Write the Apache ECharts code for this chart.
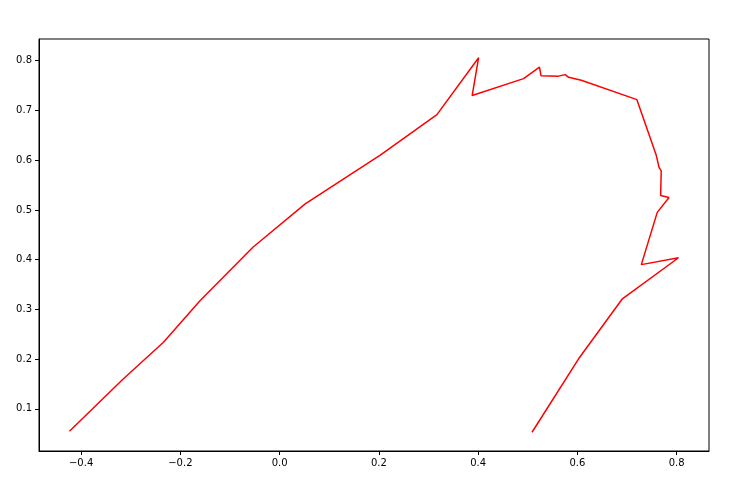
<!DOCTYPE html>
<html>
<head>
<meta charset="utf-8">
<script src="https://cdn.jsdelivr.net/npm/echarts@6/dist/echarts.min.js"></script>
<style>
  html, body { margin: 0; padding: 0; background: #fff; }
  #chart { width: 736px; height: 491px; }
</style>
</head>
<body>
<div id="chart"></div>
<script>
// points of the red curve (x, y in order)
const xValues = [
  -0.4235, -0.3147, -0.234, -0.160, -0.0538, 0.0516, 0.2028, 0.317,
  0.401, 0.388, 0.4916, 0.5237, 0.5267, 0.562, 0.5757, 0.5823, 0.608,
  0.720, 0.759, 0.7646, 0.769, 0.7678, 0.7847, 0.761, 0.7289, 0.8039,
  0.690, 0.6025, 0.5086
]
const yValues = [
  0.0549, 0.1604, 0.234, 0.318, 0.425, 0.512, 0.610, 0.6916,
  0.806, 0.730, 0.764, 0.787, 0.770, 0.769, 0.772, 0.7666, 0.7606,
  0.7217, 0.6097, 0.5855, 0.5785, 0.529, 0.525, 0.495, 0.390, 0.4038,
  0.3205, 0.2006, 0.0529
]
const xTicks = [-0.4, -0.2, 0.0, 0.2, 0.4, 0.6, 0.8]
const yTicks = [0.1, 0.2, 0.3, 0.4, 0.5, 0.6, 0.7, 0.8]

// matplotlib-ish: 5% margin around the data
const pad = (arr) => {
  const lo = Math.min(...arr), hi = Math.max(...arr)
  const m = (hi - lo) * 0.05
  return [lo - m, hi + m]
}
const [xMin, xMax] = pad(xValues)
const [yMin, yMax] = pad(yValues)

const fmt = (v) => v.toFixed(1).replace('-', '\u2212')

const tickLabel = {
  fontFamily: 'DejaVu Sans',
  fontSize: 10,
  color: '#000',
  margin: 7
}

const chart = echarts.init(document.getElementById('chart'))
chart.setOption({
  animation: false,
  grid: {
    left: 39, right: 27, top: 39, bottom: 40,
    show: true,
    borderColor: '#000',
    borderWidth: 1,
    backgroundColor: '#fff'
  },
  xAxis: {
    type: 'value',
    min: xMin,
    max: xMax,
    axisLine: { show: true, onZero: false, lineStyle: { color: '#000', width: 1 } },
    axisTick: { show: true, length: 4, customValues: xTicks, lineStyle: { color: '#000' } },
    axisLabel: Object.assign({}, tickLabel, { customValues: xTicks, formatter: fmt }),
    splitLine: { show: false }
  },
  yAxis: {
    type: 'value',
    min: yMin,
    max: yMax,
    axisLine: { show: true, onZero: false, lineStyle: { color: '#000', width: 1 } },
    axisTick: { show: true, length: 4, customValues: yTicks, lineStyle: { color: '#000' } },
    axisLabel: Object.assign({}, tickLabel, { customValues: yTicks, formatter: fmt }),
    splitLine: { show: false }
  },
  series: [{
    type: 'line',
    data: xValues.map((x, i) => [x, yValues[i]]),
    showSymbol: false,
    symbol: 'none',
    lineStyle: { color: '#ff0000', width: 1.5 },
    itemStyle: { color: '#ff0000' }
  }]
})
</script>
</body>
</html>
